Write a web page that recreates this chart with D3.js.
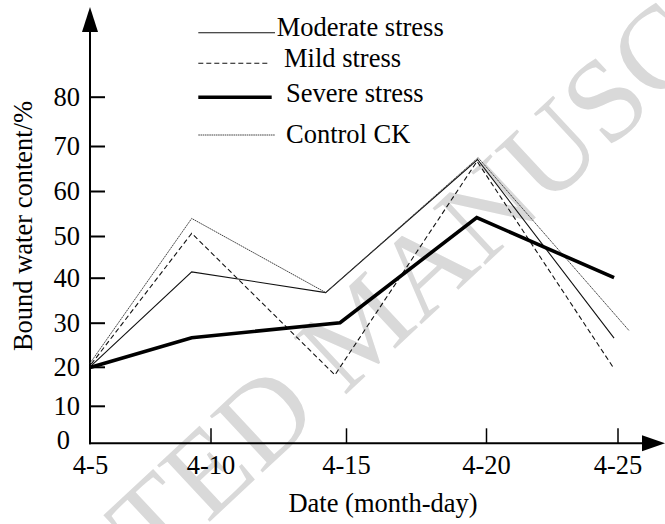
<!DOCTYPE html>
<html>
<head>
<meta charset="utf-8">
<script src="https://cdn.jsdelivr.net/npm/d3@7/dist/d3.min.js"></script>
<style>
  html, body { margin: 0; padding: 0; background: #fff; }
  svg { display: block; }
  text { font-family: "Liberation Serif", "Times New Roman", serif; fill: #000; }
</style>
</head>
<body>
<svg id="chart" width="665" height="524"></svg>
<script>
// ---- data ----
const dateLabels = ["4-5", "4-10", "4-15", "4-20", "4-25"];
const tickDays = [5, 10, 15, 20, 25];
const yTickValues = [0, 10, 20, 30, 40, 50, 60, 70, 80];

const seriesNames = ["Moderate stress", "Mild stress", "Severe stress", "Control CK"];

const moderateDays = [5.0, 9.22, 14.25, 19.70, 24.87];
const moderateValues = [20.0, 41.4, 36.7, 67.0, 26.5];

const mildDays = [5.05, 9.22, 14.59, 19.68, 24.84];
const mildValues = [20.6, 50.6, 17.9, 66.6, 19.8];

const severeDays = [5.0, 9.22, 14.78, 19.67, 24.87];
const severeValues = [19.8, 26.6, 30.0, 54.1, 40.0];

const controlDays = [5.0, 9.22, 14.25, 19.72, 25.44];
const controlValues = [20.8, 53.9, 36.7, 67.4, 28.2];

const watermarkText = "ACCEPTED MANUSCRIPT";

// ---- layout / styles ----
const svg = d3.select("#chart");
const FONT = 26.5;

// hand-drawn axis: tick positions are unevenly spaced in the original
const x = d3.scaleLinear().domain(tickDays).range([90, 210.5, 346, 486, 617.5]);
const y = d3.scaleLinear().domain(yTickValues)
  .range([443.3, 405.8, 366.8, 322.7, 277.7, 236, 191, 146, 96.7]);

const styles = {
  "Moderate stress": { stroke: "#111", width: 1.1, dash: null },
  "Mild stress":     { stroke: "#111", width: 1.1, dash: "5,3" },
  "Severe stress":   { stroke: "#000", width: 3.6, dash: null },
  "Control CK":      { stroke: "#444", width: 1.0, dash: "1.6,0.6" }
};

// watermark
svg.append("text")
  .attr("transform", "translate(360,325) rotate(-43)")
  .attr("text-anchor", "middle")
  .attr("dy", "0.35em")
  .style("font-size", "118px")
  .style("fill", "#d9d9d9")
  .text(watermarkText);

const x0 = x(tickDays[0]);
const yBase = y(0);

// axes lines with arrows
svg.append("line").attr("x1", x0).attr("x2", x0).attr("y1", yBase + 1).attr("y2", 28)
  .attr("stroke", "#000").attr("stroke-width", 2);
svg.append("path").attr("d", `M${x0},7 L${x0 - 8},32 L${x0 + 8},32 Z`).attr("fill", "#000");

svg.append("line").attr("x1", x0 - 1).attr("x2", 646).attr("y1", yBase).attr("y2", yBase)
  .attr("stroke", "#000").attr("stroke-width", 2);
svg.append("path").attr("d", `M665,${yBase} L642,${yBase - 8} L642,${yBase + 8} Z`).attr("fill", "#000");

// y axis ticks (inward)
const yAxis = d3.axisLeft(y).tickValues(yTickValues).tickSize(-15).tickPadding(10)
  .tickFormat(d3.format("d"));
const gy = svg.append("g").attr("transform", `translate(${x0},0)`).call(yAxis);
gy.select(".domain").remove();
gy.selectAll(".tick line").attr("stroke", "#000").attr("stroke-width", 2)
  .filter(d => d === 0).remove();
gy.selectAll(".tick text").style("font-size", FONT + "px").attr("fill", "#000")
  .style("font-family", "'Liberation Serif','Times New Roman',serif");
gy.selectAll(".tick text").filter(d => d === 0).attr("x", -20).attr("dy", "0.18em");

// x axis ticks (inward)
const xAxis = d3.axisBottom(x).tickValues(tickDays).tickSize(-15).tickPadding(11.5)
  .tickFormat((d, i) => dateLabels[i]);
const gx = svg.append("g").attr("transform", `translate(0,${yBase})`).call(xAxis);
gx.select(".domain").remove();
gx.selectAll(".tick line").attr("stroke", "#000").attr("stroke-width", 1.5)
  .filter(d => d === 5).remove();
gx.selectAll(".tick text").style("font-size", FONT + "px").attr("fill", "#000")
  .style("font-family", "'Liberation Serif','Times New Roman',serif");

// axis titles
svg.append("text").attr("x", 383).attr("y", 511.5).attr("text-anchor", "middle")
  .style("font-size", FONT + "px").text("Date (month-day)");
svg.append("text").attr("transform", "translate(32,226) rotate(-90)")
  .attr("text-anchor", "middle").style("font-size", FONT + "px")
  .text("Bound water content/%");

// series
const seriesData = [
  { name: seriesNames[0], days: moderateDays, values: moderateValues },
  { name: seriesNames[1], days: mildDays, values: mildValues },
  { name: seriesNames[3], days: controlDays, values: controlValues },
  { name: seriesNames[2], days: severeDays, values: severeValues }
];
const line = d3.line().x(d => x(d[0])).y(d => y(d[1]));
seriesData.forEach(s => {
  const st = styles[s.name];
  svg.append("path")
    .datum(s.days.map((d, i) => [d, s.values[i]]))
    .attr("d", line)
    .attr("fill", "none")
    .attr("stroke", st.stroke)
    .attr("stroke-width", st.width)
    .attr("stroke-dasharray", st.dash)
    .attr("stroke-linejoin", "miter");
});

// legend
const legendLayout = [
  { lineY: 32.7, lineX2: 275, textX: 276.7, textY: 36 },
  { lineY: 63.3, lineX2: 268.3, textX: 284, textY: 67 },
  { lineY: 97.3, lineX2: 271.7, textX: 286, textY: 102 },
  { lineY: 135, lineX2: 275, textX: 286, textY: 142.5 }
];
seriesNames.forEach((name, i) => {
  const st = styles[name];
  const L = legendLayout[i];
  svg.append("line").attr("x1", 198.3).attr("x2", L.lineX2)
    .attr("y1", L.lineY).attr("y2", L.lineY)
    .attr("stroke", st.stroke).attr("stroke-width", st.width)
    .attr("stroke-dasharray", st.dash);
  svg.append("text").attr("x", L.textX).attr("y", L.textY)
    .style("font-size", FONT + "px").text(name);
});
</script>
</body>
</html>
